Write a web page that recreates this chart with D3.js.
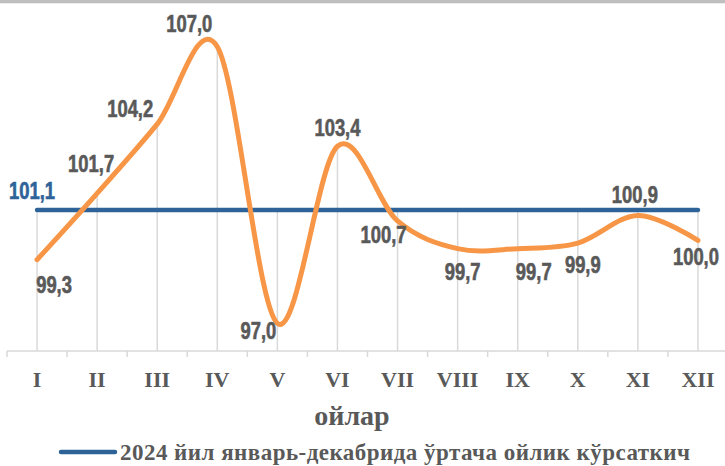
<!DOCTYPE html>
<html>
<head>
<meta charset="utf-8">
<script src="https://cdn.jsdelivr.net/npm/d3@7"></script>
<style>
  html, body { margin: 0; padding: 0; background: #fff; }
  svg { display: block; }
  .val { font-family: "Liberation Sans", Arial, sans-serif; font-weight: bold; font-size: 23px; fill: #595959; stroke: #595959; stroke-width: 0.6px; }
  .serif { font-family: "Liberation Serif", "Times New Roman", serif; font-weight: bold; fill: #595959; }
</style>
</head>
<body>
<svg id="chart" width="725" height="466"></svg>
<script>
// Months (Roman numerals) and monthly index values
const months = ["I", "II", "III", "IV", "V", "VI", "VII", "VIII", "IX", "X", "XI", "XII"];
const monthly = [99.3, 101.7, 104.2, 107.0, 97.0, 103.4, 100.7, 99.7, 99.7, 99.9, 100.9, 100.0];
const averageValue = 101.1;
const average = months.map(() => averageValue);
const axisTitle = "ойлар";
const legendText = "2024 йил январь-декабрида ўртача ойлик кўрсаткич";

// Label placement offsets (dx, dy from the point to the label baseline centre)
const labelOffsets = [
  [17, 33], [-6, -21], [-27, -7], [-28, -15], [-19, 16], [0, -10],
  [-14, 22], [5, 31], [16, 31], [5, 30], [-3, -12], [-2, 25]
];

const W = 725, H = 466;
const svg = d3.select("#chart");

const x = d3.scaleBand().domain(months).range([7, 728]).padding(0);
const y = d3.scaleLinear().domain([96, 108]).range([351, 19]);
const cx = m => x(m) + x.bandwidth() / 2;

const fmt = v => d3.format(".1f")(v).replace(".", ",");

// Top border strip
svg.append("rect").attr("x", 0).attr("y", 0).attr("width", W).attr("height", 3.3).attr("fill", "#bfbfbf");

// Drop lines from each point down to the category axis
months.forEach((m, i) => {
  const top = Math.min(y(monthly[i]), y(average[i]));
  svg.append("line")
    .attr("x1", cx(m)).attr("x2", cx(m))
    .attr("y1", top).attr("y2", y.range()[0])
    .attr("stroke", "#d9d9d9").attr("stroke-width", 1.5);
});

// Category axis with tick marks at category boundaries
const gAxis = svg.append("g").attr("transform", `translate(0,${y.range()[0]})`);
gAxis.append("line").attr("x1", 7).attr("x2", W).attr("y1", 0).attr("y2", 0)
  .attr("stroke", "#d9d9d9").attr("stroke-width", 1.5);
const bounds = months.map(m => x(m)).concat([x.range()[1]]);
gAxis.selectAll("line.bnd").data(bounds).enter().append("line")
  .attr("class", "bnd")
  .attr("x1", d => d).attr("x2", d => d).attr("y1", 0).attr("y2", 6)
  .attr("stroke", "#d9d9d9").attr("stroke-width", 1.5);

// Month labels
svg.selectAll("text.month").data(months).enter().append("text")
  .attr("class", "month serif")
  .attr("x", d => cx(d)).attr("y", 387)
  .attr("text-anchor", "middle")
  .style("font-size", "22px")
  .text(d => d);

// Axis title
svg.append("text").attr("class", "serif")
  .attr("x", 352).attr("y", 425)
  .attr("text-anchor", "middle")
  .style("font-size", "28px")
  .text(axisTitle);

// Average line
const line = d3.line().x((d, i) => cx(months[i])).y(d => y(d));
svg.append("path").datum(average)
  .attr("d", line)
  .attr("fill", "none").attr("stroke", "#2e6399").attr("stroke-width", 4.5)
  .attr("stroke-linecap", "round");

// Monthly smoothed line
const smooth = d3.line().x((d, i) => cx(months[i])).y(d => y(d)).curve(d3.curveCardinal.tension(0));
svg.append("path").datum(monthly)
  .attr("d", smooth)
  .attr("fill", "none").attr("stroke", "#f79646").attr("stroke-width", 5)
  .attr("stroke-linecap", "round").attr("stroke-linejoin", "round");

// Value labels, horizontally condensed
svg.selectAll("text.val").data(monthly).enter().append("text")
  .attr("class", "val")
  .attr("transform", (d, i) =>
    `translate(${cx(months[i]) + labelOffsets[i][0]},${y(d) + labelOffsets[i][1]}) scale(0.8,1)`)
  .attr("text-anchor", "middle")
  .text(d => fmt(d));

// Average label
svg.append("text").attr("class", "val")
  .attr("transform", `translate(${cx(months[0]) - 5},${y(averageValue) - 11}) scale(0.8,1)`)
  .attr("text-anchor", "middle")
  .style("fill", "#2e6399").style("stroke", "#2e6399")
  .text(fmt(averageValue));

// Legend
const lg = svg.append("g");
lg.append("line").attr("x1", 61).attr("x2", 115).attr("y1", 452).attr("y2", 452)
  .attr("stroke", "#2e6399").attr("stroke-width", 4.5).attr("stroke-linecap", "round");
lg.append("text").attr("class", "serif")
  .attr("x", 120).attr("y", 459.5)
  .style("font-size", "23px")
  .attr("textLength", 570).attr("lengthAdjust", "spacing")
  .text(legendText);
</script>
</body>
</html>
